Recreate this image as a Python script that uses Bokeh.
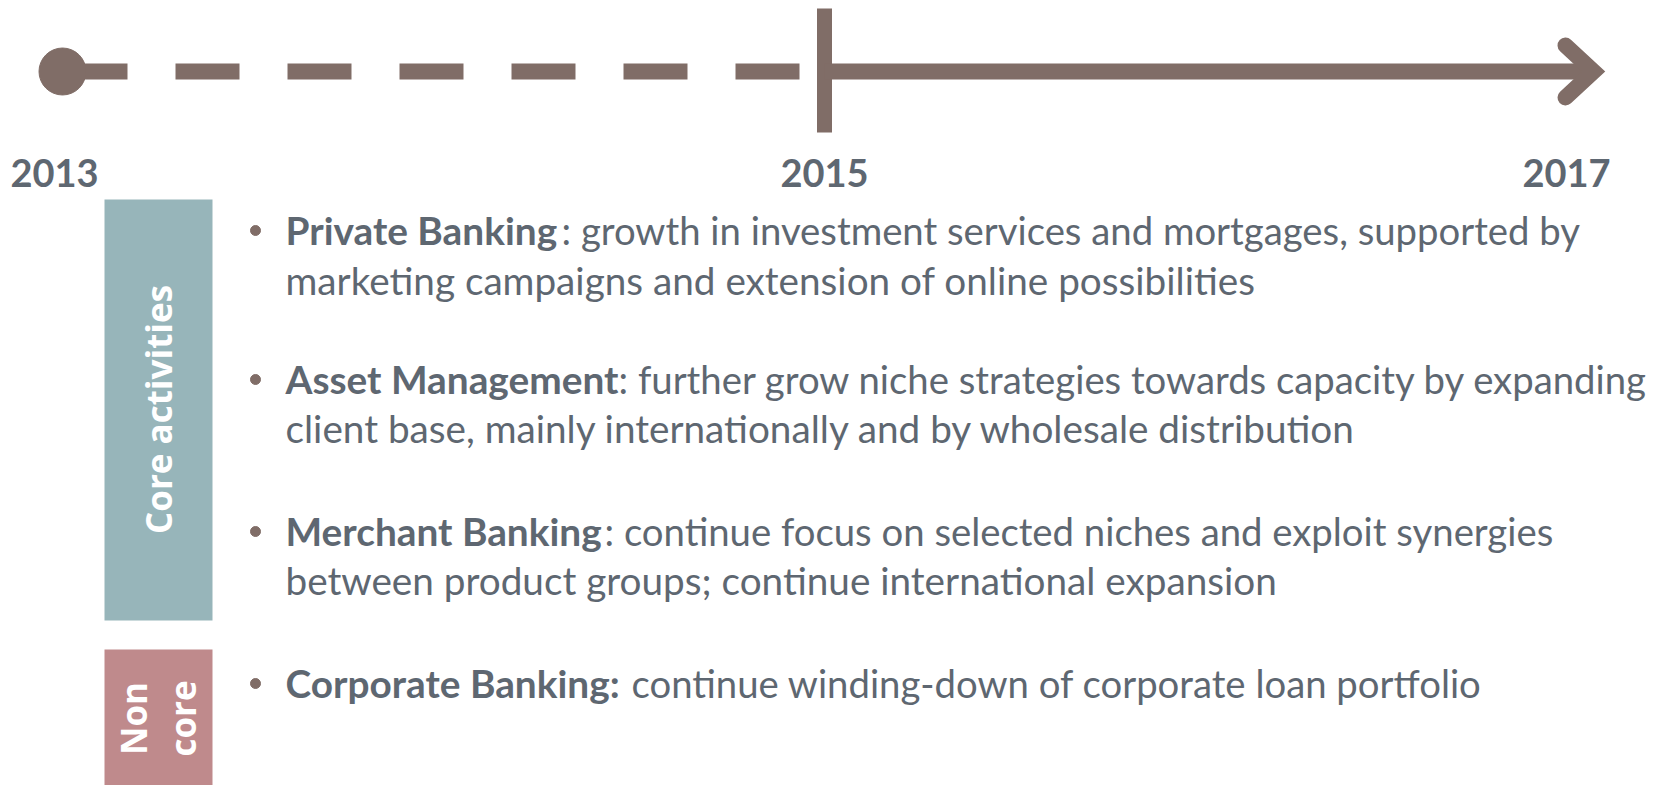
import math
from bokeh.plotting import figure
from bokeh.models import Range1d
from bokeh.core.properties import value
from bokeh.embed import file_html
from bokeh.resources import INLINE

# ---------------- data ----------------
years = ["2013", "2015", "2017"]
groups = ["Core activities", "Non", "core"]
bold_terms = ["Private Banking", "Asset Management", "Merchant Banking", "Corporate Banking:"]
first_lines = [
    ": growth in investment services and mortgages, supported by",
    ": further grow niche strategies towards capacity by expanding",
    ": continue focus on selected niches and exploit synergies",
    "continue winding-down of corporate loan portfolio",
]
second_lines = [
    "marketing campaigns and extension of online possibilities",
    "client base, mainly internationally and by wholesale distribution",
    "between product groups; continue international expansion",
]

# ---------------- layout / style ----------------
W, H = 1663, 785
TL = "#806d67"
TXT = "#5e6771"
CORE = "#97b5ba"
NONCORE = "#bf8a8c"
SHIFT = 0.38  # baseline correction (em)

year_x = [54, 824, 1566]
year_base = 187
year_fs = 38
line_y = 71
bullet_x = 255
text_x = 285
cont_x = [561, 618, 604, 631]
base1 = [244, 393, 545, 697]
base2 = [294, 442, 594]
bold_fs = 38.8
reg_fs = 38.3
reg2_fs = 38.7


def bl(ys, fs):
    return [y - SHIFT * fs for y in ys]


p = figure(width=W, height=H, x_range=Range1d(0, W), y_range=Range1d(H, 0),
           output_backend="svg", toolbar_location=None, min_border=0,
           x_axis_location=None, y_axis_location=None)
p.grid.visible = False
p.outline_line_color = None
p.background_fill_color = "white"
p.border_fill_color = "white"

# timeline
p.line([63, 799], [line_y, line_y], line_width=16, line_dash="64 48", color=TL, line_cap="butt")
p.scatter([62], [line_y], size=47, color=TL)
p.line([824, 824], [8, 132], line_width=15, color=TL)
p.line([824, 1593], [line_y, line_y], line_width=16, color=TL)
p.line([1565, 1593, 1565], [45, line_y, 97], line_width=16, color=TL,
       line_cap="round", line_join="miter")

# years
p.text(x=year_x, y=bl([year_base] * 3, year_fs), text=years, text_align="center",
       text_baseline="alphabetic", text_font=value("Lato"), text_font_style="bold",
       text_font_size=f"{year_fs}px", text_color=TXT)

# group boxes
p.quad(left=[104, 104], right=[212, 212], top=[199, 649], bottom=[620, 800],
       color=[CORE, NONCORE], line_color=None)
p.text(x=[171 - SHIFT * 35], y=[409], text=[groups[0]], angle=math.pi / 2, text_align="center",
       text_baseline="alphabetic", text_font=value("Open Sans"), text_font_style="bold",
       text_font_size="35px", text_color="white")
p.text(x=[146 - SHIFT * 35, 195 - SHIFT * 35], y=[718, 718], text=groups[1:], angle=math.pi / 2,
       text_align="center", text_baseline="alphabetic", text_font=value("Open Sans"),
       text_font_style="bold", text_font_size="35px", text_color="white")

# bullets
p.scatter([bullet_x] * 4, [b - 14 for b in base1], size=10, color=TL)
p.text(x=[text_x] * 4, y=bl(base1, bold_fs), text=bold_terms, text_baseline="alphabetic",
       text_font=value("Lato"), text_font_style="bold", text_font_size=f"{bold_fs}px",
       text_color=TXT)
p.text(x=cont_x, y=bl(base1, reg_fs), text=first_lines, text_baseline="alphabetic",
       text_font=value("Lato"), text_font_size=f"{reg_fs}px", text_color=TXT)
p.text(x=[text_x] * 3, y=bl(base2, reg2_fs), text=second_lines, text_baseline="alphabetic",
       text_font=value("Lato"), text_font_size=f"{reg2_fs}px", text_color=TXT)

open("out.html", "w").write(file_html(p, INLINE))
